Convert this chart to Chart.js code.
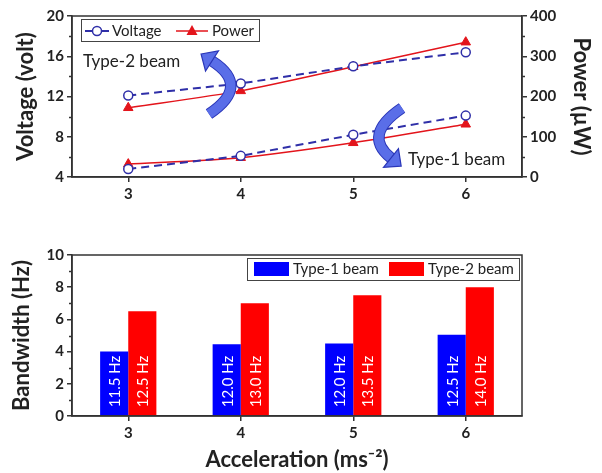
<!DOCTYPE html>
<html>
<head>
<meta charset="utf-8">
<script src="https://cdn.jsdelivr.net/npm/chart.js@4.4.1/dist/chart.umd.min.js"></script>
<style>
    body { margin: 0; background: #fff; }
    #wrap { position: relative; width: 602px; height: 473px; background: #fff; }
    canvas { position: absolute; left: 0; }
</style>
</head>
<body>
<div id="wrap">
    <canvas id="powerChart" width="602" height="225" style="top:0"></canvas>
    <canvas id="bandChart" width="602" height="248" style="top:225px"></canvas>
</div>
<script>
// Dados
const accel = ['3', '4', '5', '6'];
const voltType1 = [4.8, 6.1, 8.2, 10.1];
const voltType2 = [12.1, 13.3, 15.0, 16.4];
const powerType1 = [32, 48, 85, 131];
const powerType2 = [172, 214, 274, 335];
const bwType1 = [4.0, 4.45, 4.5, 5.05];
const bwType2 = [6.5, 7.0, 7.5, 8.0];
const bwLabels1 = ['11.5 Hz', '12.0 Hz', '12.0 Hz', '12.5 Hz'];
const bwLabels2 = ['12.5 Hz', '13.0 Hz', '13.5 Hz', '14.0 Hz'];

const FONT = 'Lato';
const AXIS = '#333';
const TEXT = '#222';
const BLUE = '#2f2fa8';
const RED = '#e3141b';

const tickFont = { family: FONT, size: 15, weight: 'bold' };
const titleFont = { family: FONT, size: 22, weight: 'bold' };

// moldura + ticks menores
const framePlugin = {
    id: 'frame',
    afterDraw(chart, args, opts) {
        const ctx = chart.ctx;
        const a = chart.chartArea;
        ctx.save();
        ctx.strokeStyle = AXIS;
        ctx.lineWidth = 1.5;
        ctx.strokeRect(a.left, a.top, a.right - a.left, a.bottom - a.top);
        (opts.minor || []).forEach(m => {
            const scale = chart.scales[m.id];
            m.values.forEach(v => {
                const y = Math.round(scale.getPixelForValue(v)) + 0.5;
                ctx.beginPath();
                if (m.side === 'left') {
                    ctx.moveTo(a.left, y); ctx.lineTo(a.left - 3, y);
                } else {
                    ctx.moveTo(a.right, y); ctx.lineTo(a.right + 3, y);
                }
                ctx.stroke();
            });
        });
        ctx.restore();
    }
};

function curvedArrow(ctx, p0, c, p2, width, headLen, headHalf) {
    let dx = p2[0] - c[0], dy = p2[1] - c[1];
    const len = Math.hypot(dx, dy);
    dx /= len; dy /= len;
    const nx = -dy, ny = dx;
    const tip = [p2[0] + dx * headLen, p2[1] + dy * headLen];
    ctx.save();
    ctx.lineCap = 'butt';
    ctx.strokeStyle = '#2a36b8';
    ctx.lineWidth = width + 2;
    ctx.beginPath();
    ctx.moveTo(p0[0], p0[1]);
    ctx.quadraticCurveTo(c[0], c[1], p2[0], p2[1]);
    ctx.stroke();
    ctx.strokeStyle = '#5a6ee8';
    ctx.lineWidth = width;
    ctx.stroke();
    ctx.beginPath();
    ctx.moveTo(tip[0], tip[1]);
    ctx.lineTo(p2[0] + nx * headHalf, p2[1] + ny * headHalf);
    ctx.lineTo(p2[0] - nx * headHalf, p2[1] - ny * headHalf);
    ctx.closePath();
    ctx.fillStyle = '#5a6ee8';
    ctx.fill();
    ctx.lineWidth = 1.2;
    ctx.strokeStyle = '#2a36b8';
    ctx.stroke();
    ctx.restore();
}

// legenda, setas e rótulos do gráfico de cima
const topDecor = {
    id: 'topDecor',
    afterDraw(chart) {
        const ctx = chart.ctx;
        ctx.save();
        // legenda
        ctx.strokeStyle = '#444';
        ctx.lineWidth = 1;
        ctx.strokeRect(81.5, 19.5, 178, 22);
        ctx.font = '15px ' + FONT;
        ctx.fillStyle = TEXT;
        ctx.textBaseline = 'middle';
        ctx.strokeStyle = BLUE;
        ctx.lineWidth = 2;
        ctx.beginPath(); ctx.moveTo(85, 31); ctx.lineTo(109, 31); ctx.stroke();
        ctx.fillStyle = '#fff';
        ctx.lineWidth = 1.5;
        ctx.beginPath(); ctx.arc(97, 31, 4.5, 0, Math.PI * 2); ctx.fill(); ctx.stroke();
        ctx.fillStyle = TEXT;
        ctx.fillText('Voltage', 112, 31);
        ctx.strokeStyle = RED;
        ctx.lineWidth = 1.5;
        ctx.beginPath(); ctx.moveTo(176, 31); ctx.lineTo(208, 31); ctx.stroke();
        ctx.fillStyle = RED;
        ctx.beginPath(); ctx.moveTo(192, 25); ctx.lineTo(197.5, 35); ctx.lineTo(186.5, 35); ctx.closePath(); ctx.fill();
        ctx.fillStyle = TEXT;
        ctx.fillText('Power', 212, 31);
        // setas
        curvedArrow(ctx, [209, 114], [251, 86], [212, 61], 9.5, 13, 12);
        curvedArrow(ctx, [402, 108], [362, 135], [391, 158], 9.5, 13, 12);
        ctx.font = '17px ' + FONT;
        ctx.fillStyle = TEXT;
        ctx.fillText('Type-2 beam', 83, 62);
        ctx.fillText('Type-1 beam', 408, 160);
        ctx.restore();
    }
};

// legenda e rótulos das barras
const bottomDecor = {
    id: 'bottomDecor',
    afterDatasetsDraw(chart) {
        const ctx = chart.ctx;
        const labels = [bwLabels1, bwLabels2];
        ctx.save();
        ctx.font = '15px ' + FONT;
        ctx.fillStyle = '#fff';
        ctx.textAlign = 'left';
        ctx.textBaseline = 'middle';
        chart.data.datasets.forEach((ds, i) => {
            chart.getDatasetMeta(i).data.forEach((bar, j) => {
                ctx.save();
                ctx.translate(bar.x + 1, bar.base - 8);
                ctx.rotate(-Math.PI / 2);
                ctx.fillText(labels[i][j], 0, 0);
                ctx.restore();
            });
        });
        ctx.restore();
    },
    afterDraw(chart) {
        const ctx = chart.ctx;
        ctx.save();
        ctx.strokeStyle = '#444';
        ctx.lineWidth = 1;
        ctx.strokeRect(247.5, 33.5, 272, 22);
        ctx.fillStyle = '#0000ff';
        ctx.fillRect(254, 37, 35, 14);
        ctx.fillStyle = '#ff0000';
        ctx.fillRect(389, 37, 35, 14);
        ctx.font = '15px ' + FONT;
        ctx.fillStyle = TEXT;
        ctx.textBaseline = 'middle';
        ctx.fillText('Type-1 beam', 293, 44);
        ctx.fillText('Type-2 beam', 428, 44);
        ctx.restore();
    }
};

function axisGrid() {
    return { drawOnChartArea: false, drawTicks: true, tickLength: 5, color: AXIS, lineWidth: 1.5, offset: false };
}

const powerChart = new Chart(document.getElementById('powerChart').getContext('2d'), {
    type: 'line',
    data: {
        labels: accel,
        datasets: [
            {
                label: 'Voltage', data: voltType2, yAxisID: 'y',
                borderColor: BLUE, borderWidth: 2, borderDash: [8, 5],
                pointStyle: 'circle', pointRadius: 4.5, pointBorderWidth: 1.5,
                pointBackgroundColor: '#fff', pointBorderColor: BLUE, tension: 0
            },
            {
                label: 'Power', data: powerType2, yAxisID: 'y2',
                borderColor: RED, borderWidth: 1.5,
                pointStyle: 'triangle', pointRadius: 5.5, pointBorderWidth: 1,
                pointBackgroundColor: RED, pointBorderColor: RED, tension: 0.25
            },
            {
                label: 'Voltage', data: voltType1, yAxisID: 'y',
                borderColor: BLUE, borderWidth: 2, borderDash: [8, 5],
                pointStyle: 'circle', pointRadius: 4.5, pointBorderWidth: 1.5,
                pointBackgroundColor: '#fff', pointBorderColor: BLUE, tension: 0
            },
            {
                label: 'Power', data: powerType1, yAxisID: 'y2',
                borderColor: RED, borderWidth: 1.5,
                pointStyle: 'triangle', pointRadius: 5.5, pointBorderWidth: 1,
                pointBackgroundColor: RED, pointBorderColor: RED, tension: 0.25
            }
        ]
    },
    options: {
        responsive: false,
        animation: false,
        devicePixelRatio: 1,
        layout: { padding: { top: 16, left: 0, right: 0, bottom: 0 } },
        plugins: {
            legend: { display: false },
            tooltip: { enabled: false },
            frame: {
                minor: [
                    { id: 'y', side: 'left', values: [6, 10, 14, 18] },
                    { id: 'y2', side: 'right', values: [50, 150, 250, 350] }
                ]
            }
        },
        scales: {
            x: {
                type: 'category', offset: true,
                grid: axisGrid(),
                border: { color: AXIS, width: 1.5 },
                ticks: { font: tickFont, color: TEXT, padding: 3 },
                afterFit: s => { s.height = 48; }
            },
            y: {
                position: 'left', min: 4, max: 20,
                grid: axisGrid(),
                border: { color: AXIS, width: 1.5 },
                ticks: { stepSize: 4, font: tickFont, color: TEXT, padding: 3 },
                title: { display: true, text: 'Voltage (volt)', font: titleFont, color: TEXT, padding: { top: 13, bottom: 0 } },
                afterFit: s => { s.width = 72; }
            },
            y2: {
                position: 'right', min: 0, max: 400,
                grid: axisGrid(),
                border: { color: AXIS, width: 1.5 },
                ticks: { stepSize: 100, font: tickFont, color: TEXT, padding: 3 },
                title: { display: true, text: 'Power (µW)', font: titleFont, color: TEXT, padding: { top: 8, bottom: 0 } },
                afterFit: s => { s.width = 80; }
            }
        }
    },
    plugins: [framePlugin, topDecor]
});

const bandChart = new Chart(document.getElementById('bandChart').getContext('2d'), {
    type: 'bar',
    data: {
        labels: accel,
        datasets: [
            { label: 'Type-1 beam', data: bwType1, backgroundColor: '#0000ff', borderWidth: 0 },
            { label: 'Type-2 beam', data: bwType2, backgroundColor: '#ff0000', borderWidth: 0 }
        ]
    },
    options: {
        responsive: false,
        animation: false,
        devicePixelRatio: 1,
        layout: { padding: { top: 30, left: 0, right: 80, bottom: 0 } },
        datasets: { bar: { categoryPercentage: 0.5, barPercentage: 1.0 } },
        plugins: {
            legend: { display: false },
            tooltip: { enabled: false },
            frame: { minor: [{ id: 'y', side: 'left', values: [1, 3, 5, 7, 9] }] }
        },
        scales: {
            x: {
                type: 'category', offset: true,
                grid: axisGrid(),
                border: { color: AXIS, width: 1.5 },
                ticks: { font: tickFont, color: TEXT, padding: 3 },
                title: { display: true, text: 'Acceleration (ms⁻²)', font: titleFont, color: TEXT, padding: { top: 0, bottom: 0 } },
                afterFit: s => { s.height = 57; }
            },
            y: {
                position: 'left', min: 0, max: 10,
                grid: axisGrid(),
                border: { color: AXIS, width: 1.5 },
                ticks: { stepSize: 2, font: tickFont, color: TEXT, padding: 3 },
                title: { display: true, text: 'Bandwidth (Hz)', font: titleFont, color: TEXT, padding: { top: 9, bottom: 0 } },
                afterFit: s => { s.width = 72; }
            }
        }
    },
    plugins: [framePlugin, bottomDecor]
});
</script>
</body>
</html>
